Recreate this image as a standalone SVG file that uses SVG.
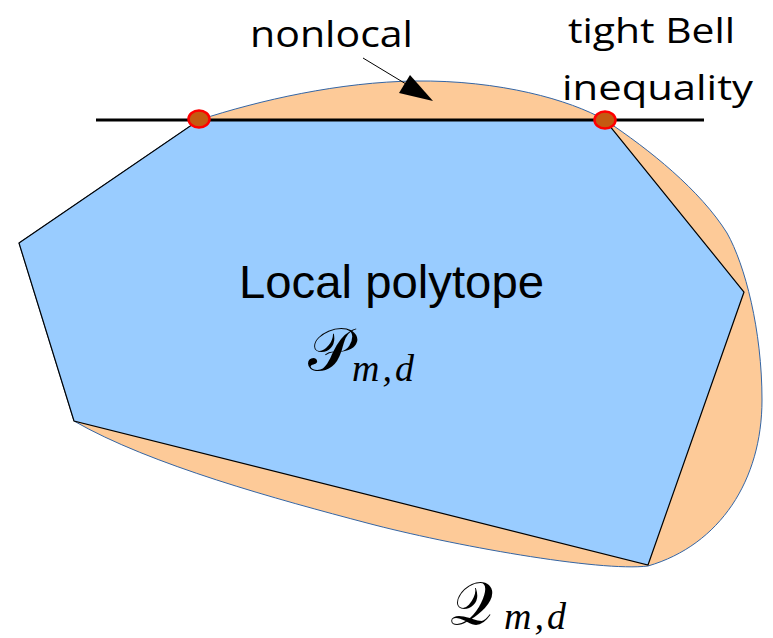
<svg xmlns="http://www.w3.org/2000/svg" width="773" height="638" viewBox="0 0 773 638">
<style>
.lbl{font-family:"Open Sans","Liberation Sans",sans-serif;fill:#000}
.arial{font-family:"Liberation Sans",Arial,sans-serif;fill:#000}
.math{font-family:"DejaVu Serif","Liberation Serif",serif;fill:#000}
.sub{font-family:"Liberation Serif","DejaVu Serif",serif;font-style:italic;fill:#000}
.dot{fill:#C55A11;stroke:#FF0000;stroke-width:2.5}
</style>
<rect width="773" height="638" fill="#fff"/>
<g id="quantum-set">
<path d="M199,120 C260,100 340,82 415,81 C500,80 570,100 605,120 C650,150 700,190 727,233 C745,265 762,330 762,400 C762,480 720,545 648,566 C600,572 450,545 367,523 C280,500 150,465 74,421 L19,243 Z" fill="#FDCA98" stroke="#3465A4" stroke-width="1"/>
</g>
<g id="local-polytope">
<polygon points="199,120 605,120 744,292 648,565 74,421 19,243" fill="#99CCFF" stroke="#000" stroke-width="1.2" stroke-linejoin="miter"/>
</g>
<g id="bell-line">
<line x1="96" y1="120" x2="704" y2="120" stroke="#000" stroke-width="3"/>
</g>
<g id="dot-left"><ellipse class="dot" cx="199" cy="119" rx="10.5" ry="8.5"/></g>
<g id="dot-right"><ellipse class="dot" cx="605" cy="120" rx="10.5" ry="8.5"/></g>
<g id="connectors">
<line x1="363" y1="58" x2="406" y2="84" stroke="#000" stroke-width="1"/>
<polygon points="433,101 410,75 399,93" fill="#000"/>
</g>
<g id="label-nonlocal"><text class="lbl" x="250" y="47" font-size="37" textLength="163" lengthAdjust="spacingAndGlyphs">nonlocal</text></g>
<g id="label-tight"><text class="lbl" x="568" y="43" font-size="35" textLength="167" lengthAdjust="spacingAndGlyphs">tight Bell</text>
<text class="lbl" x="562" y="100" font-size="35" textLength="191" lengthAdjust="spacingAndGlyphs">inequality</text></g>
<g id="label-local"><text class="arial" x="239" y="298" font-size="46" textLength="305" lengthAdjust="spacingAndGlyphs">Local polytope</text></g>
<g id="label-P"><text class="math" x="308" y="370" font-size="60">𝒫</text><text class="sub" x="352" y="381" font-size="38" letter-spacing="3">m,d</text></g>
<g id="label-Q"><text class="math" x="450" y="624" font-size="60">𝒬</text><text class="sub" x="504" y="629" font-size="38" letter-spacing="3">m,d</text></g>
</svg>
